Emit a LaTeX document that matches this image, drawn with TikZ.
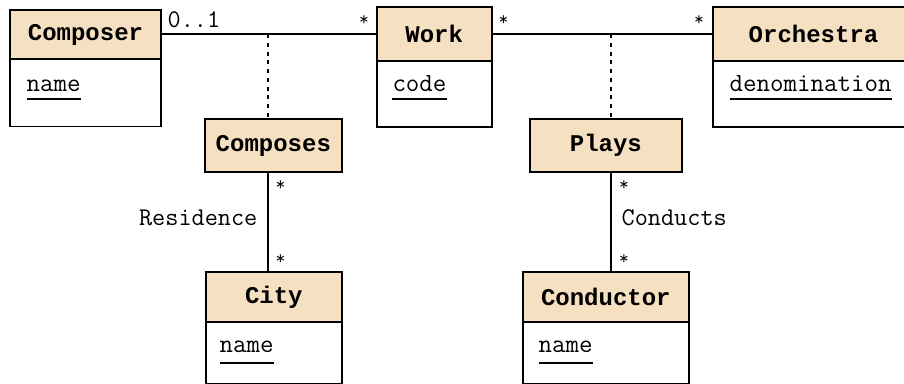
\documentclass[tikz,border=0pt]{standalone}
\usepackage{fontspec}
\newfontfamily\hdrfont{Liberation Mono}
\definecolor{hdrc}{RGB}{245,224,193}
\begin{document}
\begin{tikzpicture}[x=1pt,y=-1pt,
  hdr/.style={draw, line width=1.8pt, fill=hdrc, inner sep=0pt, outer sep=0pt,
    font=\hdrfont\bfseries\fontsize{24}{26}\selectfont},
  body/.style={draw, line width=1.8pt, fill=white, inner sep=0pt, outer sep=0pt},
  attr/.style={inner sep=0pt, anchor=base west, font=\ttfamily\fontsize{26.2}{28}\selectfont},
  lbl/.style={inner sep=0pt, font=\ttfamily\fontsize{25.5}{27}\selectfont},
  mult/.style={inner sep=0pt, anchor=north, font=\ttfamily\fontsize{19}{21}\selectfont},
  conn/.style={line width=1.8pt},
  dots/.style={line width=2pt, dash pattern=on 4pt off 4.7pt},
  uline/.style={line width=1.6pt}]
\useasboundingbox (0,0) rectangle (904,383);
\clip (0,0) rectangle (904,383);

% Composer
\node[hdr, minimum width=151pt, minimum height=48.5pt] (cmp) at (85.5,34.5) {Composer};
\node[body, minimum width=151pt, minimum height=67.5pt] (cmpb) at (85.5,92.75) {};
\node[attr] (cmpa) at (26.5,91.7) {name};
% Work
\node[hdr, minimum width=115pt, minimum height=54pt] (wrk) at (434.2,33.9) {Work};
\node[body, minimum width=115pt, minimum height=66pt] (wrkb) at (434.2,93.7) {};
\node[attr] (wrka) at (392.3,91.7) {code};
% Orchestra
\node[hdr, minimum width=201.6pt, minimum height=53.4pt] (orc) at (813.5,34) {Orchestra};
\node[body, minimum width=201.6pt, minimum height=66pt] (orcb) at (813.5,93.7) {};
\node[attr] (orca) at (729.5,91.7) {denomination};
% Composes
\node[hdr, minimum width=136.7pt, minimum height=52.4pt] (cps) at (273.35,145.5) {Composes};
% Plays
\node[hdr, minimum width=151.7pt, minimum height=52.4pt] (ply) at (605.85,145.5) {Plays};
% City
\node[hdr, minimum width=136.3pt, minimum height=50.3pt] (cty) at (273.85,296.85) {City};
\node[body, minimum width=136.3pt, minimum height=61.5pt] (ctyb) at (273.85,352.75) {};
\node[attr] (ctya) at (219.5,352.7) {name};
% Conductor
\node[hdr, minimum width=166.3pt, minimum height=50.3pt] (cnd) at (605.85,296.85) {Conductor};
\node[body, minimum width=166.3pt, minimum height=61.5pt] (cndb) at (605.85,352.75) {};
\node[attr] (cnda) at (538.5,352.7) {name};

% underlines
\draw[uline] ([yshift=-7.3pt]cmpa.base west) -- ([yshift=-7.3pt]cmpa.base east);
\draw[uline] ([yshift=-7.3pt]wrka.base west) -- ([yshift=-7.3pt]wrka.base east);
\draw[uline] ([yshift=-7.3pt]orca.base west) -- ([yshift=-7.3pt]orca.base east);
\draw[uline] ([yshift=-10pt]ctya.base west) -- ([yshift=-10pt]ctya.base east);
\draw[uline] ([yshift=-10pt]cnda.base west) -- ([yshift=-10pt]cnda.base east);

% junctions
\coordinate (j1) at (268.3,34.3);
\coordinate (j2) at (611.3,34.3);

% associations
\draw[conn] (cmp.east |- j1) -- (wrk.west |- j1);
\draw[conn] (wrk.east |- j2) -- (orc.west |- j2);
\draw[dots] (j1) -- (j1 |- cps.north);
\draw[dots] (j2) -- (j2 |- ply.north);
\draw[conn] (cps.south -| j1) -- (cty.north -| j1);
\draw[conn] (ply.south -| j2) -- (cnd.north -| j2);

% multiplicities
\node[lbl, anchor=base west] (m1) at (167.5,27) {0..1};
\node[mult] (m2) at (364,15) {*};
\node[mult] (m3) at (503.5,15) {*};
\node[mult] (m4) at (699,15) {*};
\node[mult] (m5) at (280.5,180.5) {*};
\node[mult] (m6) at (280.5,254.5) {*};
\node[mult] (m7) at (624,180.5) {*};
\node[mult] (m8) at (624,254.5) {*};
\node[lbl, anchor=base east] (r1) at (257.5,225) {Residence};
\node[lbl, anchor=base west] (r2) at (621.5,225) {Conducts};
\end{tikzpicture}
\end{document}
